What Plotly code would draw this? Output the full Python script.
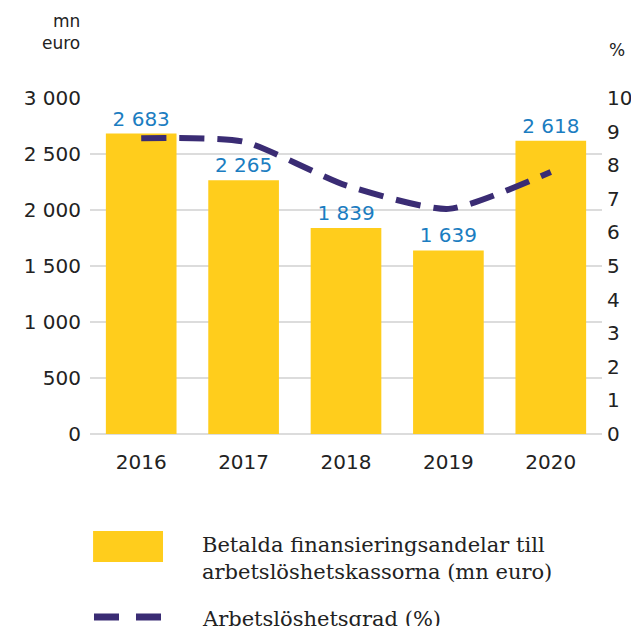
import plotly.graph_objects as go

years = ["2016", "2017", "2018", "2019", "2020"]
payments = [2683, 2265, 1839, 1639, 2618]
unemployment = [8.8, 8.7, 7.4, 6.7, 7.8]
left_ticks = [0, 500, 1000, 1500, 2000, 2500, 3000]
right_ticks = list(range(0, 11))

bar_name = "Betalda finansieringsandelar till<br>arbetslöshetskassorna (mn euro)"
line_name = "Arbetslöshetsgrad (%)"

YELLOW = "#FFCD1C"
PURPLE = "#3A2C74"
BLUE = "#1B7DC1"
TXT = "#222222"
FONT = "DejaVu Sans"
SERIF = "DejaVu Serif"

def fmt(v):
    return f"{v:,}".replace(",", " ")

fig = go.Figure()
fig.add_trace(go.Bar(
    x=years, y=payments, marker_color=YELLOW, marker_line_width=0,
    text=[fmt(v) for v in payments], textposition="outside",
    textfont=dict(color=BLUE, size=20, family=FONT), cliponaxis=False,
    name=bar_name, showlegend=False,
))
fig.add_trace(go.Scatter(
    x=years, y=unemployment, yaxis="y2", mode="lines",
    line=dict(color=PURPLE, width=6, dash="25px,13px", shape="spline", smoothing=0.6),
    name=line_name, showlegend=False,
))

fig.update_layout(
    width=631, height=626,
    margin=dict(l=90, r=29, t=98, b=192),
    paper_bgcolor="white", plot_bgcolor="white",
    bargap=0.31,
    separators=", ",
    font=dict(family=FONT, size=20, color=TXT),
    xaxis=dict(showgrid=False, showline=False, ticks="", automargin=False,
               ticklabelstandoff=14, tickfont=dict(size=20, color=TXT)),
    yaxis=dict(range=[0, 3000], tickvals=left_ticks, ticktext=[fmt(v) for v in left_ticks],
               showgrid=True, gridcolor="#DCDCDC", gridwidth=1.5, zeroline=True,
               zerolinecolor="#DCDCDC", zerolinewidth=1.5, showline=False, ticks="",
               automargin=False, ticklabelstandoff=8, tickfont=dict(size=20, color=TXT)),
    yaxis2=dict(range=[0, 10], tickvals=right_ticks, overlaying="y", side="right",
                showgrid=False, zeroline=False, showline=False, ticks="", automargin=False,
                ticklabelstandoff=4, tickfont=dict(size=20, color=TXT)),
)

# axis unit labels
fig.add_annotation(xref="paper", yref="paper", x=-0.0156, y=1.195, xanchor="right", yanchor="middle",
                   text="mn<br>euro", showarrow=False, align="right",
                   font=dict(family=FONT, size=17, color=TXT))
fig.add_annotation(xref="paper", yref="paper", x=1.029, y=1.143, xanchor="center", yanchor="middle",
                   text="%", showarrow=False, font=dict(family=FONT, size=17, color=TXT))

# custom legend
fig.add_shape(type="rect", xref="paper", yref="paper", x0=0.006, x1=0.1426, y0=-0.381, y1=-0.289,
              fillcolor=YELLOW, line_width=0)
fig.add_annotation(xref="paper", yref="paper", x=0.215, y=-0.372, xanchor="left", yanchor="middle",
                   text=bar_name, showarrow=False, align="left",
                   font=dict(family=SERIF, size=21, color=TXT))
fig.add_shape(type="line", xref="paper", yref="paper", x0=0.0078, x1=0.1387, y0=-0.545, y1=-0.545,
              line=dict(color=PURPLE, width=7, dash="25px,17px"))
fig.add_annotation(xref="paper", yref="paper", x=0.215, y=-0.55, xanchor="left", yanchor="middle",
                   text=line_name, showarrow=False, align="left",
                   font=dict(family=SERIF, size=21, color=TXT))

fig.write_html(
    "out.html",
    config={"displayModeBar": False},
    post_script="document.body.style.margin='0';document.body.style.overflow='hidden';",
)
